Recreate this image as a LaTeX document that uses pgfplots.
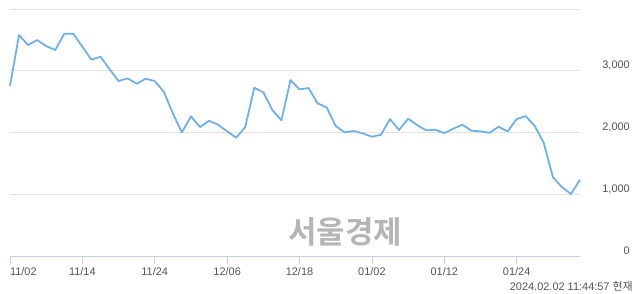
\documentclass[border=0pt]{standalone}
\usepackage{pgfplots}
\pgfplotsset{compat=1.18}
\usepackage{fontspec}
\setmainfont{Liberation Sans}
\newfontfamily\kr{Noto Sans CJK KR}
\newfontfamily\krb{Noto Sans CJK KR Bold}
\definecolor{gridgray}{HTML}{E3E3E3}
\definecolor{axisblue}{HTML}{C5D0E8}
\definecolor{linecol}{HTML}{70B0EA}
\definecolor{txt}{HTML}{555555}
\definecolor{wm}{HTML}{B5B5B5}
\begin{document}
\begin{tikzpicture}
\useasboundingbox (0,0) rectangle (640bp,-294bp);
\node[font=\krb\fontsize{31}{31}\selectfont, text=wm, inner sep=0] at (345bp,-232bp) {서울경제};
\begin{axis}[
  at={(10bp,-256bp)}, anchor=south west,
  scale only axis, width=570bp, height=247bp,
  xmin=0, xmax=63, ymin=0, ymax=4000,
  axis x line*=bottom, axis y line*=right,
  y axis line style={draw=none},
  x axis line style={draw=axisblue, line width=0.8bp, -},
  xtick={0,8,16,24,32,40,48,56},
  xticklabels={\makebox[0pt][l]{11/02},11/14,11/24,12/06,12/18,01/02,01/12,01/24},
  xtick align=outside,
  xtick style={draw=axisblue, line width=0.8bp},
  major tick length=8bp,
  ytick={0,1000,2000,3000,4000},
  yticklabels={0,{1,000},{2,000},{3,000},{}},
  ytick style={draw=none},
  ymajorgrids, grid style={draw=gridgray, line width=0.8bp},
  tick label style={font=\fontsize{11}{11}\selectfont, text=txt},
  yticklabel style={anchor=base east, inner sep=0pt, xshift=50bp, yshift=2bp},
  xticklabel style={inner sep=0pt, yshift=-3bp},
  /pgf/number format/assume math mode=true,
  clip=false,
]
\addplot[color=linecol, line width=1.8bp, mark=none, line join=round] coordinates {
(0,2752) (1,3578) (2,3416) (3,3497) (4,3400) (5,3335) (6,3600) (7,3600)
(8,3389) (9,3179) (10,3227) (11,3028) (12,2833) (13,2877) (14,2790) (15,2870)
(16,2833) (17,2660) (18,2310) (19,2002) (20,2261) (21,2088) (22,2190) (23,2126)
(24,2018) (25,1915) (26,2088) (27,2725) (28,2650) (29,2364) (30,2197) (31,2849)
(32,2699) (33,2720) (34,2472) (35,2407) (36,2105) (37,2002) (38,2024) (39,1986)
(40,1931) (41,1964) (42,2218) (43,2040) (44,2223) (45,2121) (46,2035) (47,2045)
(48,1991) (49,2061) (50,2126) (51,2029) (52,2018) (53,1996) (54,2093) (55,2018)
(56,2218) (57,2265) (58,2105) (59,1830) (60,1280) (61,1115) (62,1005) (63,1235)
};
\end{axis}
\node[anchor=base east, inner sep=0, font=\fontsize{11}{11}\selectfont, text=txt] at (633bp,-290bp) {2024.02.02 11:44:57 {\kr 현재}};
\end{tikzpicture}
\end{document}
